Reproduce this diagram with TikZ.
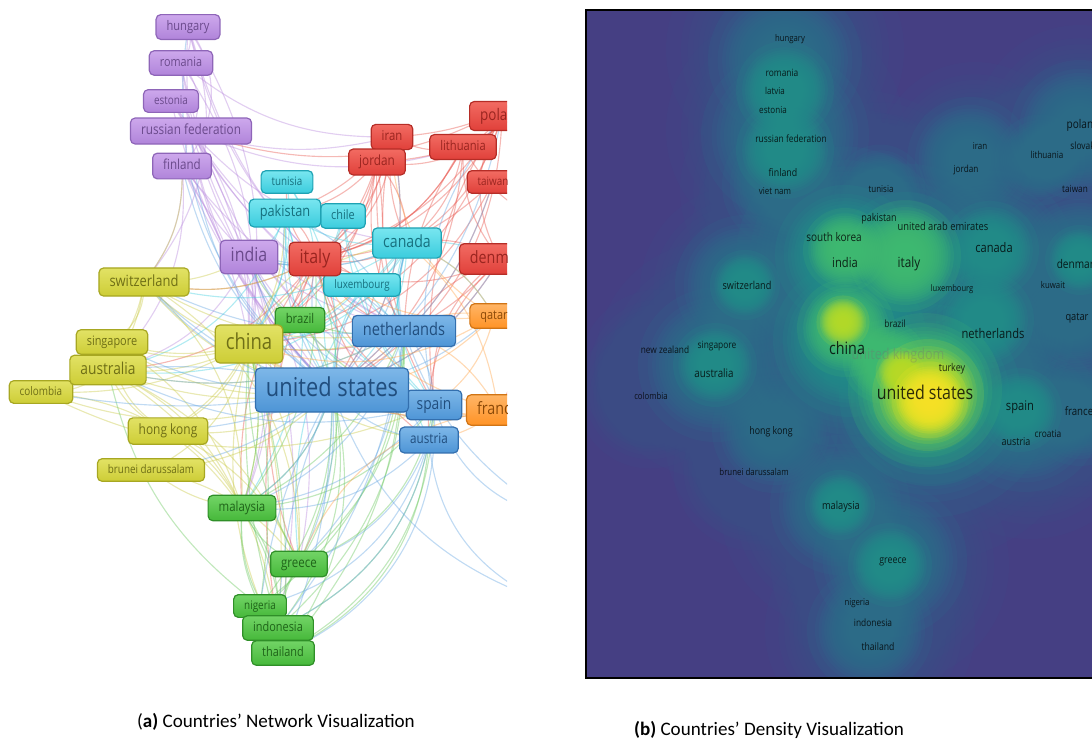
\documentclass[tikz,border=0pt]{standalone}
\usepackage{fontspec}
\setmainfont{Carlito}
\newfontfamily\vosfont{Open Sans}[FakeStretch=0.84]

% cluster colours: line, top, bottom, border, text
\definecolor{pur}{HTML}{B98BDD}\definecolor{purtop}{HTML}{CDA8EC}\definecolor{purbot}{HTML}{B084DA}\definecolor{purbd}{HTML}{8E65B8}\definecolor{purtx}{HTML}{6B4A8C}
\definecolor{red}{HTML}{E8574F}\definecolor{redtop}{HTML}{F26B62}\definecolor{redbot}{HTML}{E0403A}\definecolor{redbd}{HTML}{B52D27}\definecolor{redtx}{HTML}{9A2520}
\definecolor{cya}{HTML}{45CFE0}\definecolor{cyatop}{HTML}{78E6F0}\definecolor{cyabot}{HTML}{3BCCDD}\definecolor{cyabd}{HTML}{1FA2B3}\definecolor{cyatx}{HTML}{17707E}
\definecolor{yel}{HTML}{CACA4A}\definecolor{yeltop}{HTML}{E2E265}\definecolor{yelbot}{HTML}{CDCD36}\definecolor{yelbd}{HTML}{A7A722}\definecolor{yeltx}{HTML}{6F6F16}
\definecolor{gre}{HTML}{6CC860}\definecolor{gretop}{HTML}{72D466}\definecolor{grebot}{HTML}{46B83A}\definecolor{grebd}{HTML}{2F8F28}\definecolor{gretx}{HTML}{1F6419}
\definecolor{blu}{HTML}{68A8E2}\definecolor{blutop}{HTML}{7DB7E8}\definecolor{blubot}{HTML}{4E95D6}\definecolor{blubd}{HTML}{336FAE}\definecolor{blutx}{HTML}{214E7E}
\definecolor{ora}{HTML}{FFA64D}\definecolor{oratop}{HTML}{FFB566}\definecolor{orabot}{HTML}{FF9326}\definecolor{orabd}{HTML}{D07415}\definecolor{oratx}{HTML}{8C4A08}
% density map colours (viridis)
\definecolor{dbg}{HTML}{453F83}
\definecolor{vA}{HTML}{3B528B}
\definecolor{vB}{HTML}{2C728E}
\definecolor{vC}{HTML}{21918C}
\definecolor{vD}{HTML}{44BF70}
\definecolor{vE}{HTML}{BDDF26}
\definecolor{vF}{HTML}{FDE725}

\tikzset{
  vbox/.style={rounded corners=3.5pt, draw=#1bd, top color=#1top, bottom color=#1bot,
    text=#1tx, line width=0.9pt, inner xsep=7.9pt},
  link/.style={line width=0.85pt, draw opacity=0.42},
  dlabel/.style={text=black, text opacity=0.8, inner sep=0pt},
}

% network label box: key, size (px), cluster, text
\newcommand\vnode[4]{%
  \pgfmathsetmacro\vsz{0.75*#2}%
  \pgfmathsetmacro\vth{0.76*\vsz}%
  \pgfmathsetmacro\vtd{0.24*\vsz}%
  \pgfmathsetmacro\vys{0.75*(0.25*#2+2.5)}%
  \node[vbox=#3, font={\vosfont\fontsize{\vsz}{\vsz}\selectfont},
        text height=\vth pt, text depth=\vtd pt, inner ysep=\vys pt] (#1) at (p-#1) {#4};}
% density label: key, x, y, size (px), text
\newcommand\dlab[5]{%
  \pgfmathsetmacro\vsz{0.75*#4}%
  \node[dlabel, font={\vosfont\fontsize{\vsz}{\vsz}\selectfont}] (d-#1) at (#2,#3) {#5};}
% soft blob: stacked translucent discs give a smooth radial falloff
\newcommand\glowat[4]{%
  \foreach \k in {1,...,18}{%
    \pgfmathsetmacro\rr{0.7*#3*sqrt(1-sqrt((\k-1)/18))}%
    \fill[#4, fill opacity=0.14] (#1,#2) circle (\rr);}}

\begin{document}
\begin{tikzpicture}[x=0.75pt, y=-0.75pt]
\useasboundingbox (0,0) rectangle (1092,744);

% ---------------- (a) network ----------------
\foreach \k/\x/\y in {hun/188/27, rom/181/63, est/171/101, rus/191/131, fin/182/166,
  ind/249/257, ira/392/137, jor/377/162, lit/463/147, pol/502/116, tai/493/182,
  ita/315/259, den/500/259, tun/287/182, pak/285/213, chl/343/216, can/407/243,
  lux/362/285, swi/144/282, chn/249/344, sin/112/342, aus/108/370, col/41/392,
  hkg/168/431, bru/151/470, bra/300/320, mal/242/508, gre/299/564, nig/260/606,
  idn/278/628, tha/283/653, net/404/331, usa/332/390, spa/434/405, aut/429/440,
  qat/494/316, fra/498/410, ea/570/60, eb/580/230, ec/560/520, ed/540/600}
  {\coordinate (p-\k) at (\x,\y);}

\begin{scope}
\clip (0,0) rectangle (507,744);
\foreach \ea/\eb/\ec/\ed in {
  hun/usa/pur/-25, hun/ita/pur/-15, hun/chn/pur/20, hun/net/pur/-20, hun/rom/pur/30, hun/fin/pur/40,
  rom/usa/pur/-20, rom/ind/pur/-10, rom/rus/pur/35, rom/spa/pur/-25, rom/ira/pur/-20,
  est/fin/pur/30, est/usa/pur/-15, est/rus/pur/40, est/net/pur/-15,
  rus/ira/pur/-15, rus/chn/pur/15, rus/usa/pur/-10, rus/ita/pur/-10, rus/lit/pur/-20,
  fin/usa/pur/-10, fin/chn/pur/10, fin/swi/pur/20, fin/ind/pur/-10, fin/aus/pur/25,
  ind/usa/pur/-15, ind/chn/pur/15, ind/mal/pur/20, ind/can/pur/-20, ind/ita/pur/-20, ind/net/pur/-10, ind/aus/pur/25,
  rus/net/pur/-15, rus/can/pur/-20, fin/net/pur/-15, fin/mal/pur/30, hun/swi/pur/30, rom/chn/pur/20,
  est/chn/pur/20, ind/spa/pur/-20, ind/gre/pur/20, ind/idn/pur/15, ind/bra/pur/20,
  ira/usa/red/25, ira/chn/red/20, ira/pak/red/15, ira/lit/red/-20, ira/ita/red/20,
  jor/usa/red/20, jor/ita/red/15, jor/spa/red/-15, jor/can/red/20, jor/chn/red/25,
  lit/pol/red/-25, lit/ita/red/25, lit/net/red/-15, lit/usa/red/25, lit/den/red/-20,
  pol/ita/red/25, pol/spa/red/-20, pol/usa/red/30, pol/jor/red/30, pol/den/red/-30,
  tai/chn/red/30, tai/usa/red/20, tai/ita/red/20,
  den/usa/red/20, den/net/red/-15, den/ita/red/25, den/chn/red/30, den/spa/red/-30,
  ita/usa/red/20, ita/chn/red/20, ita/net/red/-20, ita/spa/red/-25, ita/can/red/-20,
  ita/swi/red/20, ita/bra/red/10, ita/aut/red/-20, ita/aus/red/25, ita/gre/red/-25,
  ita/pak/red/-20, ita/lux/red/20, ita/tun/red/25, ita/mal/red/-20, ita/idn/red/-15,
  ita/pol/red/-20, ita/lit/red/-25, ita/jor/red/-20, ita/ira/red/-30,
  den/can/red/-20, den/aut/red/-25, den/fra/red/30, pol/can/red/20, pol/chn/red/30,
  lit/can/red/20, jor/net/red/-20, jor/pak/red/20, ira/net/red/-15, ira/can/red/-15,
  rus/ea/red/-30, ira/ea/red/-20, lit/eb/red/-25, den/eb/red/20, jor/ea/red/-25, pol/eb/red/25,
  tun/ita/cya/15, tun/usa/cya/20, pak/chn/cya/20, pak/usa/cya/-15, pak/mal/cya/25, pak/can/cya/-20,
  chl/usa/cya/-15, chl/spa/cya/-20, can/usa/cya/25, can/chn/cya/30, can/net/cya/-20, can/aus/cya/30,
  can/swi/cya/25, lux/usa/cya/-15, lux/net/cya/-20, can/spa/cya/-25, pak/ind/cya/25,
  can/aut/cya/-20, can/gre/cya/-25, can/ind/cya/20, can/lux/cya/30, can/den/cya/15, can/qat/cya/20,
  pak/aus/cya/30, pak/spa/cya/-25, tun/chn/cya/20, chl/chn/cya/25, chl/net/cya/-20,
  lux/spa/cya/-20, lux/chn/cya/20,
  swi/usa/yel/-20, swi/chn/yel/-15, swi/ita/yel/-20, swi/net/yel/-20, swi/aus/yel/15,
  sin/chn/yel/-20, sin/usa/yel/-20, sin/aus/yel/30, aus/usa/yel/-15, aus/chn/yel/-15,
  aus/mal/yel/20, aus/net/yel/-20, col/usa/yel/-20, col/spa/yel/-25, col/aus/yel/-20,
  hkg/chn/yel/-20, hkg/usa/yel/-20, hkg/aus/yel/20, bru/mal/yel/-15, bru/chn/yel/-25,
  bru/usa/yel/-20, chn/usa/yel/-15, chn/net/yel/-15, chn/mal/yel/15, chn/spa/yel/-20,
  chn/gre/yel/15, chn/idn/yel/10, swi/ind/yel/-15,
  chn/ita/yel/20, chn/can/yel/25, chn/pak/yel/-15, chn/lux/yel/-15, chn/aut/yel/-20,
  chn/bra/yel/-10, chn/sin/yel/15, chn/hkg/yel/15, chn/tha/yel/-20,
  aus/gre/yel/20, aus/idn/yel/25, sin/mal/yel/20, swi/mal/yel/25, swi/gre/yel/30,
  col/mal/yel/25, col/chn/yel/-15, swi/fin/yel/-20, hkg/mal/yel/15, hkg/gre/yel/20,
  bru/gre/yel/20, sin/hkg/yel/-30, col/swi/yel/-35, sin/swi/yel/-30,
  bra/usa/gre/15, bra/net/gre/-15, bra/chn/gre/20, mal/usa/gre/-20, mal/gre/gre/-20,
  mal/idn/gre/20, mal/chn/gre/-15, mal/tha/gre/15, gre/usa/gre/-20, gre/net/gre/-25,
  gre/tha/gre/-20, gre/nig/gre/20, gre/spa/gre/-30, gre/idn/gre/-15, nig/usa/gre/-20,
  nig/mal/gre/15, nig/chn/gre/-10, idn/usa/gre/-25, idn/net/gre/-25, idn/mal/gre/20,
  tha/usa/gre/-25, tha/spa/gre/-30, tha/chn/gre/-10, tha/aut/gre/-30, nig/aus/gre/20,
  mal/net/gre/-20, mal/ita/gre/-20, mal/spa/gre/-25, gre/chn/gre/15, gre/ita/gre/-20,
  idn/chn/gre/10, idn/spa/gre/-30, nig/net/gre/-25, tha/net/gre/-20, bra/ind/gre/20, bra/spa/gre/-20,
  usa/spa/blu/-20, net/spa/blu/20, aut/usa/blu/20, aut/gre/blu/25, spa/idn/blu/30,
  net/mal/blu/25, aut/mal/blu/25, usa/fra/blu/-20, net/usa/blu/20, spa/tha/blu/35,
  aut/nig/blu/30, net/aus/blu/20, usa/mal/blu/20, usa/gre/blu/15, usa/tha/blu/10,
  usa/ita/blu/15, usa/can/blu/-15, usa/pak/blu/20, usa/lux/blu/10, usa/swi/blu/15,
  usa/aus/blu/-10, usa/hkg/blu/10, usa/sin/blu/15, usa/col/blu/10, usa/bru/blu/15,
  usa/nig/blu/-10, usa/idn/blu/-10, usa/ind/blu/15, usa/den/blu/-20, usa/qat/blu/-15,
  usa/tai/blu/-20, usa/ira/blu/-25, usa/pol/blu/-20, usa/fin/blu/20, usa/rus/blu/25, usa/hun/blu/30,
  net/can/blu/15, net/aut/blu/-25, net/pak/blu/-20, net/gre/blu/20, net/idn/blu/15,
  net/swi/blu/15, net/ind/blu/-20, spa/ind/blu/25, spa/swi/blu/25, spa/aus/blu/20,
  spa/mal/blu/20, spa/pol/blu/25,
  spa/ec/blu/-30, aut/ed/blu/-30, usa/ed/blu/-25, net/ec/blu/-20,
  qat/usa/ora/20, qat/ita/ora/25, fra/usa/ora/20, fra/net/ora/-20, fra/aut/ora/15,
  fra/spa/ora/20, qat/ira/ora/30, fra/ita/ora/25, qat/chn/ora/25, fra/ec/ora/20,
  qat/net/ora/-20, qat/spa/ora/20, qat/can/ora/-20, fra/chn/ora/25, fra/can/ora/-20, fra/gre/ora/-30}
  {\draw[link, draw=\ec] (p-\ea) to[bend left=\ed] (p-\eb);}

% label boxes, smaller ones first
\vnode{tun}{11.7}{cya}{tunisia}
\vnode{lux}{11.7}{cya}{luxembourg}
\vnode{est}{11.8}{pur}{estonia}
\vnode{col}{11.8}{yel}{colombia}
\vnode{bru}{11.7}{yel}{brunei darussalam}
\vnode{nig}{11.8}{gre}{nigeria}
\vnode{tai}{11.7}{red}{taiwan}
\vnode{hun}{13.2}{pur}{hungary}
\vnode{rom}{12.9}{pur}{romania}
\vnode{rus}{14}{pur}{russian federation}
\vnode{fin}{13.8}{pur}{finland}
\vnode{ira}{13.5}{red}{iran}
\vnode{jor}{14}{red}{jordan}
\vnode{lit}{13.3}{red}{lithuania}
\vnode{chl}{13}{cya}{chile}
\vnode{sin}{13}{yel}{singapore}
\vnode{aus}{16.4}{yel}{australia}
\vnode{idn}{13}{gre}{indonesia}
\vnode{tha}{13}{gre}{thailand}
\vnode{hkg}{14.2}{yel}{hong kong}
\vnode{mal}{13.6}{gre}{malaysia}
\vnode{gre}{13.7}{gre}{greece}
\vnode{bra}{13.4}{gre}{brazil}
\vnode{aut}{13.9}{blu}{austria}
\vnode{spa}{16.4}{blu}{spain}
\vnode{pak}{15.2}{cya}{pakistan}
\vnode{can}{16.8}{cya}{canada}
\vnode{swi}{15.4}{yel}{switzerland}
\vnode{net}{17.4}{blu}{netherlands}
\vnode{qat}{13}{ora}{qatar}
\vnode{fra}{17}{ora}{france}
\vnode{pol}{16}{red}{poland}
\vnode{den}{17}{red}{denmark}
\vnode{ind}{19}{pur}{india}
\vnode{ita}{19}{red}{italy}
\vnode{chn}{22}{yel}{china}
\vnode{usa}{26}{blu}{united states}
\end{scope}

% ---------------- (b) density ----------------
\begin{scope}
\clip (586,10) rectangle (1092,678);
\fill[dbg] (586,10) rectangle (1092,678);
\foreach \x/\y/\r in {785/50/170, 785/130/170, 785/190/150, 850/250/230, 990/280/195,
  1030/420/170, 1080/130/150, 1080/280/150, 975/160/140, 1040/165/115, 745/290/150,
  715/360/170, 660/370/115, 770/440/150, 840/510/170, 890/565/170, 870/630/150,
  880/190/125, 1080/410/125, 1080/320/115, 754/470/115, 650/395/105, 930/400/230, 850/340/205}
  {\glowat{\x}{\y}{\r}{vA}}
\foreach \x/\y/\r in {785/60/110, 785/135/120, 785/185/90, 845/255/155, 905/265/145,
  990/255/120, 990/330/120, 1025/415/110, 715/365/110, 745/285/100, 840/505/100, 890/560/110,
  870/630/90, 1080/260/100, 1080/130/100, 970/160/90, 775/430/90, 1040/160/65, 1080/410/80,
  880/190/65, 1075/320/80, 930/395/175, 850/340/155}
  {\glowat{\x}{\y}{\r}{vB}}
\foreach \x/\y/\r in {785/90/70, 785/150/70, 845/255/100, 905/262/100, 990/250/70,
  985/320/70, 1020/410/60, 715/365/60, 745/285/50, 840/505/50, 890/565/60, 1080/260/50,
  930/395/130, 850/340/110}
  {\glowat{\x}{\y}{\r}{vC}}
\foreach \x/\y/\r in {905/256/80, 845/250/60, 846/328/70, 925/390/110, 885/362/60}
  {\glowat{\x}{\y}{\r}{vD}}
\foreach \x/\y/\r in {843/322/38, 928/395/80, 900/372/35}
  {\glowat{\x}{\y}{\r}{vE}}
\foreach \x/\y/\r in {930/400/55}
  {\glowat{\x}{\y}{\r}{vF}}

\dlab{hun}{790}{39}{9.2}{hungary}
\dlab{rom}{782}{73}{10}{romania}
\dlab{lva}{775}{91}{9.5}{latvia}
\dlab{est}{773}{110}{9.6}{estonia}
\dlab{rus}{791}{139}{10}{russian federation}
\dlab{fin}{783}{173}{10.5}{finland}
\dlab{vnm}{775}{191}{9.5}{viet nam}
\dlab{tun}{881}{189}{9.5}{tunisia}
\dlab{ira}{980}{146}{9.5}{iran}
\dlab{jor}{966}{170}{9.7}{jordan}
\dlab{lit}{1047}{155}{9.6}{lithuania}
\dlab{pol}{1083}{125}{12}{poland}
\dlab{svk}{1086}{146}{10}{slovakia}
\dlab{tai}{1075}{189}{9.8}{taiwan}
\dlab{pak}{879}{219}{10.7}{pakistan}
\dlab{are}{943}{226}{11.1}{united arab emirates}
\dlab{kor}{834}{237}{11.9}{south korea}
\dlab{can}{994}{248}{13.2}{canada}
\dlab{ind}{845}{263}{13.3}{india}
\dlab{ita}{909}{264}{14}{italy}
\dlab{den}{1078}{264}{12}{denmark}
\dlab{swi}{747}{285}{10.9}{switzerland}
\dlab{lux}{952}{289}{9}{luxembourg}
\dlab{kwt}{1053}{285}{9.3}{kuwait}
\dlab{bra}{895}{324}{10}{brazil}
\dlab{net}{993}{334}{13.3}{netherlands}
\dlab{qat}{1077}{318}{11}{qatar}
\dlab{nzl}{665}{350}{9.9}{new zealand}
\dlab{sin}{717}{346}{10}{singapore}
\node[dlabel, text=black!55, text opacity=0.35, font={\vosfont\fontsize{11.25}{11.25}\selectfont}] (d-gbr) at (898,356) {united kingdom};
\dlab{chn}{847}{348}{17}{china}
\dlab{tur}{952}{369}{10.7}{turkey}
\dlab{aus}{714}{373}{11.6}{australia}
\dlab{col}{651}{396}{9.3}{colombia}
\dlab{usa}{925}{392}{19}{united states}
\dlab{spa}{1020}{407}{13.3}{spain}
\dlab{fra}{1079}{411}{11.5}{france}
\dlab{hrv}{1048}{434}{10}{croatia}
\dlab{aut}{1016}{442}{10.7}{austria}
\dlab{hkg}{771}{432}{10.5}{hong kong}
\dlab{bru}{754}{472}{9.4}{brunei darussalam}
\dlab{mal}{841}{507}{11}{malaysia}
\dlab{gre}{893}{562}{10.5}{greece}
\dlab{nig}{857}{603}{9.3}{nigeria}
\dlab{idn}{873}{623}{10}{indonesia}
\dlab{tha}{878}{647}{10.3}{thailand}
\end{scope}
\draw[line width=1.5pt] (1100,10) -- (586,10) -- (586,678) -- (1100,678);

% ---------------- captions ----------------
\node[font=\fontsize{14.3}{17}\selectfont] (cap-a) at (276,722) {(\textbf{a)} Countries’ Network Visualization};
\node[font=\fontsize{14.3}{17}\selectfont] (cap-b) at (769,730) {\textbf{(b)} Countries’ Density Visualization};
\end{tikzpicture}
\end{document}
